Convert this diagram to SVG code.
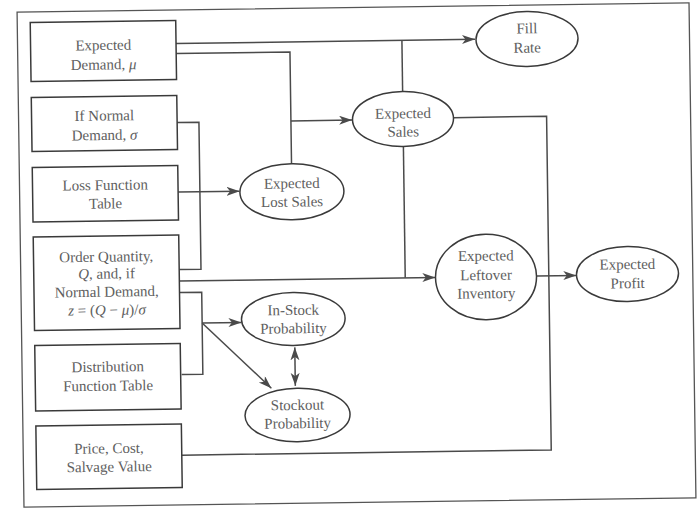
<svg xmlns="http://www.w3.org/2000/svg" width="697" height="509" viewBox="0 0 697 509">
<style>
.box{fill:#fff;stroke:#3a3a3a;stroke-width:1.5}
.ell{fill:#fff;stroke:#3a3a3a;stroke-width:1.5}
.t{font-family:"Liberation Serif","Times New Roman",serif;font-size:15px;fill:#606060;text-anchor:middle}
.i{font-style:italic}
.c{fill:none;stroke:#4a4a4a;stroke-width:1.5}
.a{marker-end:url(#ah)}
.frame{fill:#fff;stroke:#555;stroke-width:1.3}
</style>
<defs>
<marker id="ah" markerUnits="userSpaceOnUse" markerWidth="14" markerHeight="10" refX="13" refY="4.5" orient="auto-start-reverse">
<path d="M0,0 L13,4.5 L0,9 L3.5,4.5 z" fill="#4a4a4a"/>
</marker>
</defs>
<rect width="697" height="509" fill="#fff"/>
<g transform="rotate(-0.8 356.5 254.75)">
<rect class="frame" x="20.5" y="7.5" width="672" height="495"/>
<g id="connectors">
<path class="c a" d="M179,41 H478"/>
<path class="c" d="M179,51 H292.8 V163"/>
<path class="c a" d="M292.8,120 H354"/>
<path class="c" d="M404.9,92 V41"/>
<path class="c" d="M455,119 H548.5 V452.7 H179"/>
<path class="c a" d="M536.5,278.5 H576"/>
<path class="c" d="M404.9,147 V278.5"/>
<path class="c a" d="M179,278.5 H435"/>
<path class="c" d="M179,120 H200.8 V267 H179"/>
<path class="c a" d="M179,189.5 H240.5"/>
<path class="c" d="M179,290 H201.2 V372 H180"/>
<path class="c a" d="M201.2,320.8 H240.5"/>
<path class="c a" d="M201.2,320.8 L269.5,387"/>
<path class="c a" d="M293.5,346.5 V385" marker-start="url(#ah)"/>
</g>
<g id="n-demand"><rect class="box" x="33.5" y="18" width="145.5" height="59"/>
<text class="t" x="106.25" y="46.5">Expected</text><text class="t" x="106.25" y="66">Demand, <tspan class="i">μ</tspan></text></g>
<g id="n-sigma"><rect class="box" x="33.5" y="93" width="145.5" height="54"/>
<text class="t" x="106.25" y="117">If Normal</text><text class="t" x="106.25" y="136.5">Demand, <tspan class="i">σ</tspan></text></g>
<g id="n-loss"><rect class="box" x="33.5" y="163" width="145.5" height="54.5"/>
<text class="t" x="106.25" y="186.5">Loss Function</text><text class="t" x="106.25" y="205">Table</text></g>
<g id="n-order"><rect class="box" x="33.5" y="232.5" width="145.5" height="93.5"/>
<text class="t" x="106.25" y="258.2">Order Quantity,</text>
<text class="t" x="106.25" y="275"><tspan class="i">Q</tspan>, and, if</text>
<text class="t" x="106.25" y="293.2">Normal Demand,</text>
<text class="t" x="106.25" y="311.5"><tspan class="i">z</tspan> = (<tspan class="i">Q</tspan> − <tspan class="i">μ</tspan>)/<tspan class="i">σ</tspan></text></g>
<g id="n-dist"><rect class="box" x="33.5" y="341" width="145.5" height="65.5"/>
<text class="t" x="106.25" y="368.2">Distribution</text><text class="t" x="106.25" y="387.2">Function Table</text></g>
<g id="n-price"><rect class="box" x="33.5" y="421.5" width="145.5" height="63.5"/>
<text class="t" x="106.25" y="449.8">Price, Cost,</text><text class="t" x="106.25" y="468.2">Salvage Value</text></g>
<g id="n-fill"><ellipse class="ell" cx="530" cy="41.4" rx="51" ry="27.5"/>
<text class="t" x="530" y="35.7">Fill</text><text class="t" x="530" y="55">Rate</text></g>
<g id="n-sales"><ellipse class="ell" cx="404.9" cy="119.6" rx="50.5" ry="27.5"/>
<text class="t" x="404.9" y="119">Expected</text><text class="t" x="404.9" y="137.3">Sales</text></g>
<g id="n-lost"><ellipse class="ell" cx="292.8" cy="190.8" rx="52" ry="28"/>
<text class="t" x="292.8" y="187.4">Expected</text><text class="t" x="292.8" y="205.8">Lost Sales</text></g>
<g id="n-leftover"><ellipse class="ell" cx="485.7" cy="278.8" rx="50.5" ry="42.7"/>
<text class="t" x="485.7" y="262.5">Expected</text><text class="t" x="485.7" y="281.8">Leftover</text><text class="t" x="485.7" y="300.1">Inventory</text></g>
<g id="n-profit"><ellipse class="ell" cx="627.2" cy="277.8" rx="51" ry="27.5"/>
<text class="t" x="627.2" y="273">Expected</text><text class="t" x="627.2" y="292">Profit</text></g>
<g id="n-instock"><ellipse class="ell" cx="292.4" cy="318" rx="51.8" ry="26.5"/>
<text class="t" x="292.4" y="314.1">In-Stock</text><text class="t" x="292.4" y="332.4">Probability</text></g>
<g id="n-stockout"><ellipse class="ell" cx="295.3" cy="414.2" rx="52.5" ry="26.7"/>
<text class="t" x="295.3" y="409.1">Stockout</text><text class="t" x="295.3" y="427.4">Probability</text></g>
</g>
</svg>
